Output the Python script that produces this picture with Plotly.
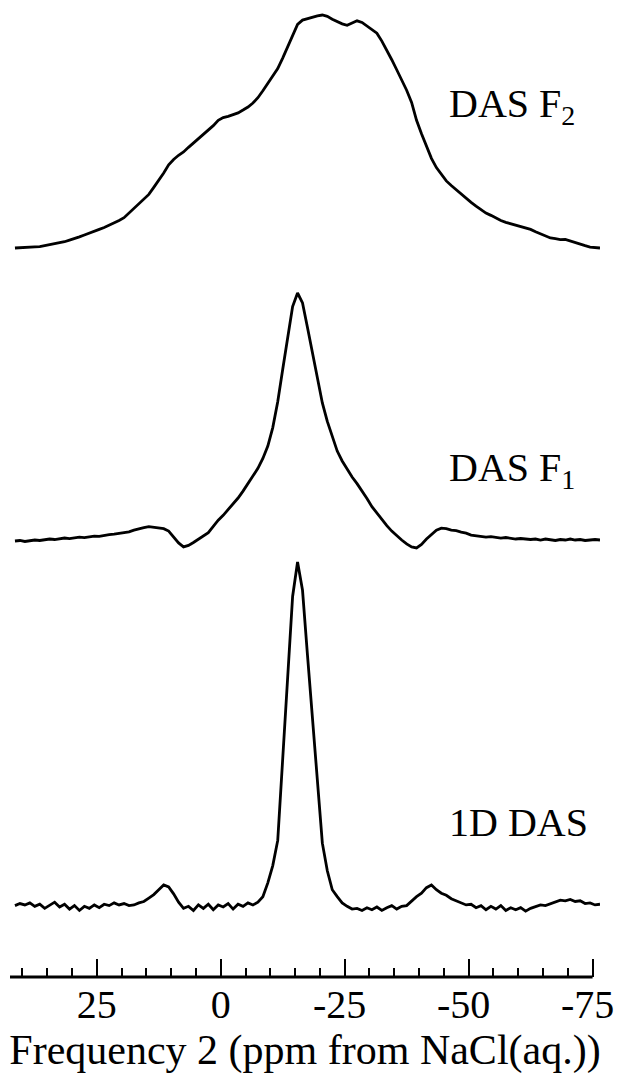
import numpy as np
import plotly.graph_objects as go

# Chemical shift grid (ppm), high to low
ppm = np.arange(41.5, -77.0, -1.0)

# Normalised intensities (baseline 0, tallest point 1)
das_f2 = [
    0.000, 0.002, 0.001, 0.004, 0.005, 0.006, 0.010, 0.014, 0.017, 0.022,
    0.027, 0.034, 0.040, 0.048, 0.056, 0.063, 0.072, 0.080, 0.088, 0.098,
    0.106, 0.118, 0.130, 0.150, 0.170, 0.188, 0.210, 0.230, 0.260, 0.290,
    0.322, 0.357, 0.380, 0.398, 0.412, 0.432, 0.450, 0.468, 0.486, 0.505,
    0.525, 0.548, 0.560, 0.565, 0.572, 0.580, 0.592, 0.605, 0.622, 0.645,
    0.675, 0.705, 0.735, 0.770, 0.815, 0.865, 0.915, 0.960, 0.978, 0.985,
    0.990, 0.996, 1.000, 0.994, 0.982, 0.972, 0.962, 0.956, 0.966, 0.975,
    0.968, 0.952, 0.937, 0.922, 0.888, 0.850, 0.808, 0.765, 0.722, 0.677,
    0.625, 0.548, 0.490, 0.438, 0.385, 0.345, 0.315, 0.288, 0.268, 0.250,
    0.230, 0.210, 0.196, 0.180, 0.164, 0.150, 0.140, 0.128, 0.118, 0.110,
    0.104, 0.098, 0.092, 0.087, 0.080, 0.070, 0.060, 0.050, 0.043, 0.040,
    0.036, 0.037, 0.030, 0.022, 0.014, 0.010, 0.004, 0.003, 0.000,
]

das_f1 = [
    -0.004, -0.002, -0.006, -0.003, 0.000, -0.002, 0.002, 0.004, 0.002, 0.006,
    0.008, 0.006, 0.010, 0.012, 0.010, 0.014, 0.016, 0.015, 0.020, 0.022,
    0.024, 0.026, 0.030, 0.033, 0.040, 0.046, 0.050, 0.054, 0.052, 0.050,
    0.046, 0.036, 0.012, -0.012, -0.028, -0.022, -0.010, 0.004, 0.016, 0.030,
    0.055, 0.080, 0.100, 0.122, 0.145, 0.170, 0.198, 0.228, 0.258, 0.290,
    0.330, 0.380, 0.455, 0.560, 0.690, 0.820, 0.945, 1.000, 0.960, 0.860,
    0.760, 0.650, 0.555, 0.480, 0.415, 0.360, 0.320, 0.285, 0.255, 0.228,
    0.200, 0.168, 0.135, 0.108, 0.082, 0.058, 0.036, 0.016, 0.000, -0.016,
    -0.028, -0.032, -0.018, 0.004, 0.024, 0.040, 0.048, 0.046, 0.040, 0.038,
    0.032, 0.028, 0.020, 0.018, 0.016, 0.012, 0.014, 0.010, 0.008, 0.010,
    0.006, 0.004, 0.006, 0.004, 0.002, 0.004, 0.000, 0.004, 0.002, -0.002,
    0.002, 0.000, 0.004, 0.000, 0.002, -0.002, 0.000, 0.002, 0.000,
]

das_1d = [
    0.004, 0.010, 0.006, 0.012, 0.002, 0.008, -0.004, 0.006, 0.014, 0.000,
    0.008, -0.006, 0.004, -0.010, 0.002, -0.004, 0.006, -0.002, 0.008, 0.004,
    0.012, 0.006, 0.010, 0.004, 0.006, 0.012, 0.016, 0.026, 0.036, 0.050,
    0.064, 0.058, 0.038, 0.014, -0.004, 0.002, -0.010, 0.006, -0.004, 0.008,
    -0.008, 0.006, 0.000, 0.010, -0.006, 0.008, 0.002, 0.012, 0.006, 0.014,
    0.030, 0.070, 0.120, 0.193, 0.440, 0.660, 0.900, 1.000, 0.918, 0.730,
    0.540, 0.350, 0.185, 0.105, 0.050, 0.030, 0.012, 0.002, -0.006, -0.004,
    -0.010, -0.002, -0.008, 0.000, -0.010, -0.002, 0.004, -0.006, 0.002, 0.004,
    0.018, 0.030, 0.040, 0.056, 0.064, 0.050, 0.040, 0.034, 0.024, 0.018,
    0.010, 0.006, 0.008, -0.002, 0.004, -0.008, 0.002, -0.006, 0.004, -0.010,
    -0.002, -0.008, -0.002, -0.012, -0.004, 0.002, 0.006, 0.004, 0.010, 0.014,
    0.020, 0.018, 0.022, 0.016, 0.018, 0.010, 0.012, 0.006, 0.008,
]

tick_vals = [25, 0, -25, -50, -75]
# negative labels carry a trailing no-break space so the digits sit over the tick
tick_text = ["25", "0", "-25\u00a0", "-50\u00a0", "-75\u00a0"]
x_title = "Frequency 2 (ppm from NaCl(aq.))"

W, H = 624, 1080
M_L, M_R, M_T, M_B = 10, 14, 0, 103
PLOT_H = H - M_T - M_B
X_RANGE = [42.5, -76.5]
FONT = "Liberation Serif"
LINE_W = 2.8

# label, data, baseline px, peak px, clip bottom px, clip top px, label x px, label y px
panels = [
    ("DAS F<sub>2</sub>", das_f2, 248, 15, 262, 2, 454, 106),
    ("DAS F<sub>1</sub>", das_f1, 540, 293, 556, 280, 454, 470),
    ("1D DAS", das_1d, 907, 562, 925, 550, 454, 822),
]


def paper_y(py):
    return (H - M_B - py) / PLOT_H


def paper_x(px):
    return (px - M_L) / (W - M_L - M_R)


fig = go.Figure()
layout_axes = {}
annotations = []
for i, (label, vals, base, peak, clip_lo, clip_hi, lx, ly) in enumerate(panels):
    name = "y" if i == 0 else f"y{i + 1}"
    key = "yaxis" if i == 0 else f"yaxis{i + 1}"
    span = base - peak
    fig.add_trace(go.Scatter(
        x=ppm, y=vals, mode="lines", xaxis="x", yaxis=name,
        line=dict(color="black", width=LINE_W), showlegend=False,
        hoverinfo="skip",
    ))
    layout_axes[key] = dict(
        domain=[paper_y(clip_lo), paper_y(clip_hi)],
        range=[(base - clip_lo) / span, (base - clip_hi) / span],
        visible=False, anchor="x", fixedrange=True,
    )
    annotations.append(dict(
        text=label, xref="paper", yref="paper",
        x=paper_x(lx), y=paper_y(ly), xanchor="left", yanchor="middle",
        showarrow=False, font=dict(family=FONT, size=40, color="black"),
    ))

fig.update_layout(
    width=W, height=H,
    margin=dict(l=M_L, r=M_R, t=M_T, b=M_B, pad=0),
    paper_bgcolor="white", plot_bgcolor="white",
    font=dict(family=FONT, size=40, color="black"),
    xaxis=dict(
        range=X_RANGE, anchor="free", position=0,
        showline=False, showgrid=False, zeroline=False,
        tickmode="array", tickvals=tick_vals, ticktext=tick_text,
        ticks="inside", ticklen=18, tickwidth=2.4, tickcolor="black",
        ticklabeloverflow="allow",
        minor=dict(tickmode="linear", tick0=0, dtick=5, ticks="inside",
                   ticklen=9, tickwidth=2.4, tickcolor="black", showgrid=False),
        tickfont=dict(family=FONT, size=40, color="black"),
        title=dict(text=x_title, font=dict(family=FONT, size=42, color="black"),
                   standoff=0),
        fixedrange=True,
    ),
    annotations=annotations,
    shapes=[dict(
        type="line", xref="x", yref="paper",
        x0=X_RANGE[0], x1=-75, y0=0, y1=0,
        line=dict(color="black", width=LINE_W),
    )],
    **layout_axes,
)

fig.write_html("out.html")
